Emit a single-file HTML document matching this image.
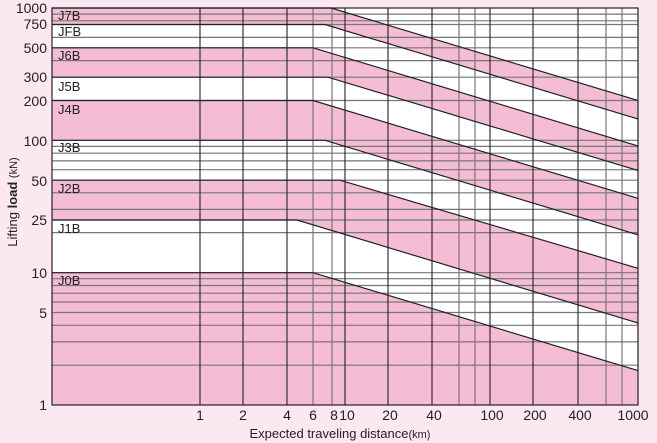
<!DOCTYPE html>
<html><head><meta charset="utf-8"><style>
html,body{margin:0;padding:0;background:#fce8f0;}
svg{display:block;font-family:"Liberation Sans",sans-serif;}
</style></head><body>
<svg width="657" height="443" viewBox="0 0 657 443">
<rect width="657" height="443" fill="#fce8f0"/>
<rect x="52" y="8" width="586" height="397" fill="#fff"/>
<g fill="#f5bdd5">
<polygon points="52,8 331,8 638,100.5 638,119 325,24.5 52,24.5"/>
<polygon points="52,47.8 313,47.8 638,146 638,170.5 328,77.2 52,77.2"/>
<polygon points="52,100.5 313,100.5 638,198.4 638,234.8 325,140.3 52,140.3"/>
<polygon points="52,180.2 340,180.2 638,268.3 638,323 297,220 52,220"/>
<polygon points="52,272.7 313,272.7 638,370.6 638,405 52,405"/>
</g>
<g stroke="#777" stroke-width="1.2">
<line x1="52" x2="638" y1="14.1" y2="14.1"/><line x1="52" x2="638" y1="20.8" y2="20.8"/>
<line x1="52" x2="638" y1="37.4" y2="37.4"/><line x1="52" x2="638" y1="60.6" y2="60.6"/>
<line x1="52" x2="638" y1="146.4" y2="146.4"/><line x1="52" x2="638" y1="153.2" y2="153.2"/>
<line x1="52" x2="638" y1="160.9" y2="160.9"/><line x1="52" x2="638" y1="169.7" y2="169.7"/>
<line x1="52" x2="638" y1="192.8" y2="192.8"/><line x1="52" x2="638" y1="209.4" y2="209.4"/>
<line x1="52" x2="638" y1="232.6" y2="232.6"/><line x1="52" x2="638" y1="278.7" y2="278.7"/>
<line x1="52" x2="638" y1="285.5" y2="285.5"/><line x1="52" x2="638" y1="293.2" y2="293.2"/>
<line x1="52" x2="638" y1="302" y2="302"/><line x1="52" x2="638" y1="312.5" y2="312.5"/>
<line x1="52" x2="638" y1="325.3" y2="325.3"/><line x1="52" x2="638" y1="341.9" y2="341.9"/>
<line x1="52" x2="638" y1="365.2" y2="365.2"/>
<line x1="52" x2="638" y1="24.5" y2="24.5"/><line x1="52" x2="638" y1="47.8" y2="47.8"/>
<line x1="52" x2="638" y1="77.2" y2="77.2"/><line x1="52" x2="638" y1="100.5" y2="100.5"/>
<line x1="52" x2="638" y1="140.3" y2="140.3"/><line x1="52" x2="638" y1="180.2" y2="180.2"/>
<line x1="52" x2="638" y1="220" y2="220"/><line x1="52" x2="638" y1="272.7" y2="272.7"/>
<line y1="8" y2="405" x1="313" x2="313"/><line y1="8" y2="405" x1="332" x2="332"/>
<line y1="8" y2="405" x1="459" x2="459"/><line y1="8" y2="405" x1="475" x2="475"/>
<line y1="8" y2="405" x1="606" x2="606"/><line y1="8" y2="405" x1="622" x2="622"/>
</g>
<g stroke="#222" stroke-width="1.1">
<line y1="8" y2="405" x1="200" x2="200"/><line y1="8" y2="405" x1="243" x2="243"/>
<line y1="8" y2="405" x1="287" x2="287"/><line y1="8" y2="405" x1="345" x2="345"/>
<line y1="8" y2="405" x1="388" x2="388"/><line y1="8" y2="405" x1="432" x2="432"/>
<line y1="8" y2="405" x1="490" x2="490"/><line y1="8" y2="405" x1="533" x2="533"/>
<line y1="8" y2="405" x1="578" x2="578"/>
</g>
<g stroke="#222" stroke-width="1.2" fill="none">
<polyline points="52,8 331,8 638,100.5"/>
<polyline points="52,24.5 325,24.5 638,119"/>
<polyline points="52,47.8 313,47.8 638,146"/>
<polyline points="52,77.2 328,77.2 638,170.5"/>
<polyline points="52,100.5 313,100.5 638,198.4"/>
<polyline points="52,140.3 325,140.3 638,234.8"/>
<polyline points="52,180.2 340,180.2 638,268.3"/>
<polyline points="52,220 297,220 638,323"/>
<polyline points="52,272.7 313,272.7 638,370.6"/>
<rect x="52" y="8" width="586" height="397"/>
</g>
<g font-size="13" fill="#222">
<text x="58" y="20">J7B</text><text x="58" y="36">JFB</text><text x="58" y="60">J6B</text>
<text x="58" y="91">J5B</text><text x="58" y="114">J4B</text><text x="58" y="152">J3B</text>
<text x="58" y="193">J2B</text><text x="58" y="233">J1B</text><text x="58" y="285">J0B</text>
</g>
<g font-size="14" fill="#222" text-anchor="end">
<text x="47" y="13">1000</text><text x="47" y="29">750</text><text x="47" y="53">500</text>
<text x="47" y="82">300</text><text x="47" y="106">200</text><text x="47" y="146">100</text>
<text x="47" y="186">50</text><text x="47" y="225">25</text><text x="47" y="278">10</text>
<text x="47" y="318">5</text><text x="47" y="410">1</text>
</g>
<g font-size="14" fill="#222" text-anchor="middle">
<text x="200" y="420">1</text><text x="243" y="420">2</text><text x="287" y="420">4</text>
<text x="313" y="420">6</text><text x="334" y="420">8</text><text x="347" y="420">10</text>
<text x="390" y="420">20</text><text x="434" y="420">40</text><text x="492" y="420">100</text>
<text x="535" y="420">200</text><text x="580" y="420">400</text><text x="633" y="420">1000</text>
</g>
<text x="340" y="438" font-size="13" fill="#222" text-anchor="middle">Expected traveling distance<tspan font-size="11">(km)</tspan></text>
<text transform="translate(17,202) rotate(-90)" font-size="13" fill="#222" text-anchor="middle">Lifting <tspan font-weight="bold">load</tspan> <tspan font-size="11">(kN)</tspan></text>
</svg>
</body></html>
